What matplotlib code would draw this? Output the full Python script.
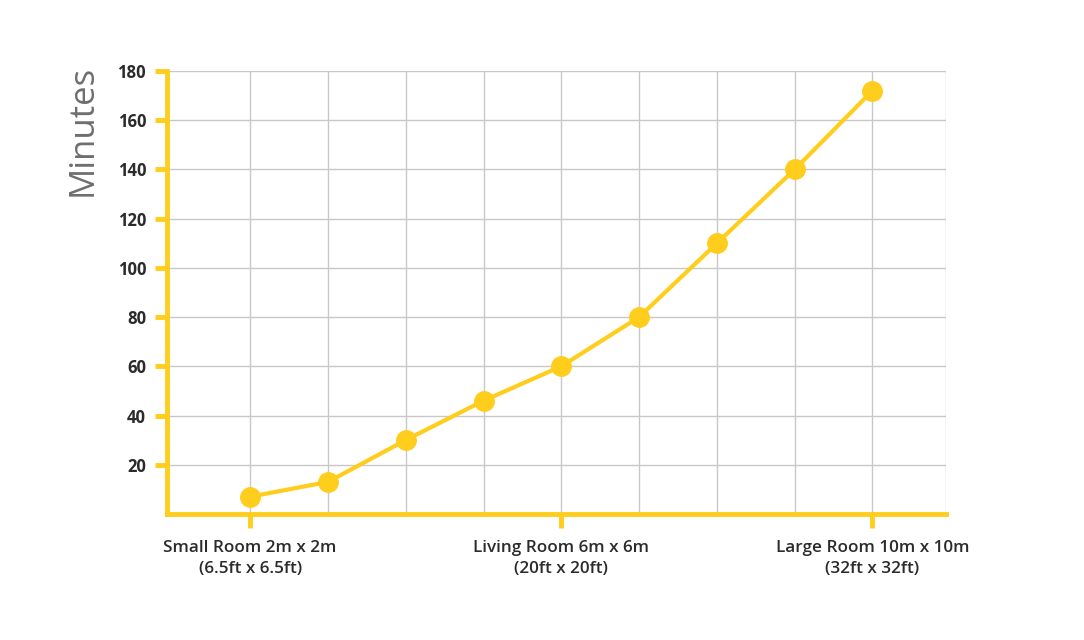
import matplotlib.pyplot as plt
import numpy as np

# room side length in metres, drying time in minutes
room_size = [2, 3, 4, 5, 6, 7, 8, 9, 10]
minutes = [7, 13, 30, 46, 60, 80, 110, 140, 172]

tick_pos = [2, 6, 10]
tick_labels = [
    "Small Room 2m x 2m\n(6.5ft x 6.5ft)",
    "Living Room 6m x 6m\n(20ft x 20ft)",
    "Large Room 10m x 10m\n(32ft x 32ft)",
]
y_ticks = [20, 40, 60, 80, 100, 120, 140, 160, 180]

YELLOW = "#FFCD1C"
GRID = "#c8c8c8"
TEXT = "#2b2b2b"

plt.rcParams["font.family"] = ["Open Sans", "DejaVu Sans"]

fig = plt.figure(figsize=(10.84, 6.4), dpi=100)
ax = fig.add_axes([0.154, 0.197, 0.719, 0.692])

x_lo, x_hi = 0.93, 10.95

# grid
for x in list(range(2, 11)) + [x_hi]:
    ax.axvline(x, color=GRID, lw=1.0, zorder=1)
for y in y_ticks:
    ax.axhline(y, color=GRID, lw=1.0, zorder=1)

ax.plot(room_size, minutes, color=YELLOW, lw=3, marker="o", markersize=14,
        zorder=3, clip_on=False)

ax.set_xlim(x_lo, x_hi)
ax.set_ylim(0, 180)

for side in ["top", "right"]:
    ax.spines[side].set_visible(False)
for side in ["left", "bottom"]:
    ax.spines[side].set_color(YELLOW)
    ax.spines[side].set_linewidth(3.5)
    ax.spines[side].set_zorder(4)

ax.set_yticks(y_ticks)
ax.set_yticklabels([str(v) for v in y_ticks], fontsize=12, fontweight="bold",
                   color=TEXT)
ax.set_xticks(tick_pos)
ax.set_xticklabels(tick_labels, fontsize=12.3, fontweight="semibold", color=TEXT,
                   linespacing=1.4)
ax.tick_params(axis="y", length=9, width=3.5, color=YELLOW, pad=6)
ax.tick_params(axis="x", length=10, width=3.5, color=YELLOW, pad=9)

ax.set_ylabel("Minutes", fontsize=25, color="#6e6e6e")
ax.yaxis.set_label_coords(-0.086, 0.867)

fig.savefig("out.png", dpi=100, facecolor="white")
